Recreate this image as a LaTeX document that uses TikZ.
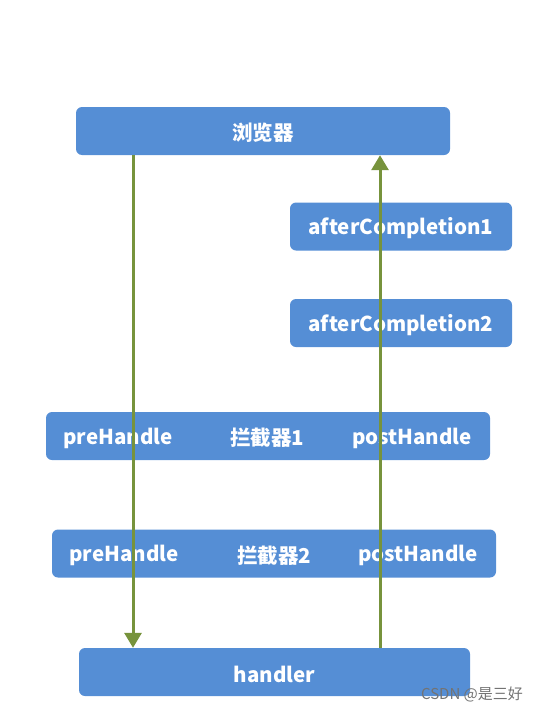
\documentclass[tikz,border=0pt]{standalone}
\usepackage{fontspec}
\newfontfamily\cjk{Noto Sans CJK SC}
\usetikzlibrary{arrows.meta}

\definecolor{boxblue}{HTML}{558ED5}
\definecolor{flowgreen}{HTML}{77933C}

\tikzset{
  bar/.style={fill=boxblue, draw=none, rounded corners=6pt, minimum height=48pt, inner sep=0pt},
  lbl/.style={text=white, font=\cjk\bfseries\fontsize{20.5}{20.5}\selectfont, inner sep=0pt, yshift=-2pt},
  flow/.style={draw=flowgreen, line width=3pt, -{Triangle[width=17pt,length=15pt]}}
}

\begin{document}
\begin{tikzpicture}[x=1pt,y=1pt]
\useasboundingbox (0,0) rectangle (538,-712);
\node[bar, minimum width=374pt] (brw) at (263,-131) {};
\node[lbl] (brwtxt) at (brw) {浏览器};
\node[bar, minimum width=222pt] (ac1) at (401,-226.5) {};
\node[lbl] at (ac1) {afterCompletion1};
\node[bar, minimum width=222pt] (ac2) at (401,-323) {};
\node[lbl] at (ac2) {afterCompletion2};
\node[bar, minimum width=444pt] (ic1) at (268,-436) {};
\node[lbl] (pre1) at (118,-436) {preHandle};
\node[lbl] (name1) at (267,-436) {拦截器1};
\node[lbl] (post1) at (412,-436) {postHandle};
\node[bar, minimum width=444pt] (ic2) at (274,-553.5) {};
\node[lbl] (pre2) at (124,-553.5) {preHandle};
\node[lbl] (name2) at (274,-553.5) {拦截器2};
\node[lbl] (post2) at (418,-553.5) {postHandle};
\node[bar, minimum width=391pt] (hdl) at (274.5,-672) {};
\node[lbl] at (hdl) {handler};
\coordinate (down) at (133,0);
\coordinate (up) at (380,0);
\draw[flow] (brw.south -| down) -- (hdl.north -| down);
\draw[flow] (hdl.north -| up) -- (brw.south -| up);
\node[text=black!55, font=\cjk\fontsize{15}{15}\selectfont, inner sep=0pt] (mark) at (472,-694) {CSDN @是三好};
\end{tikzpicture}
\end{document}
